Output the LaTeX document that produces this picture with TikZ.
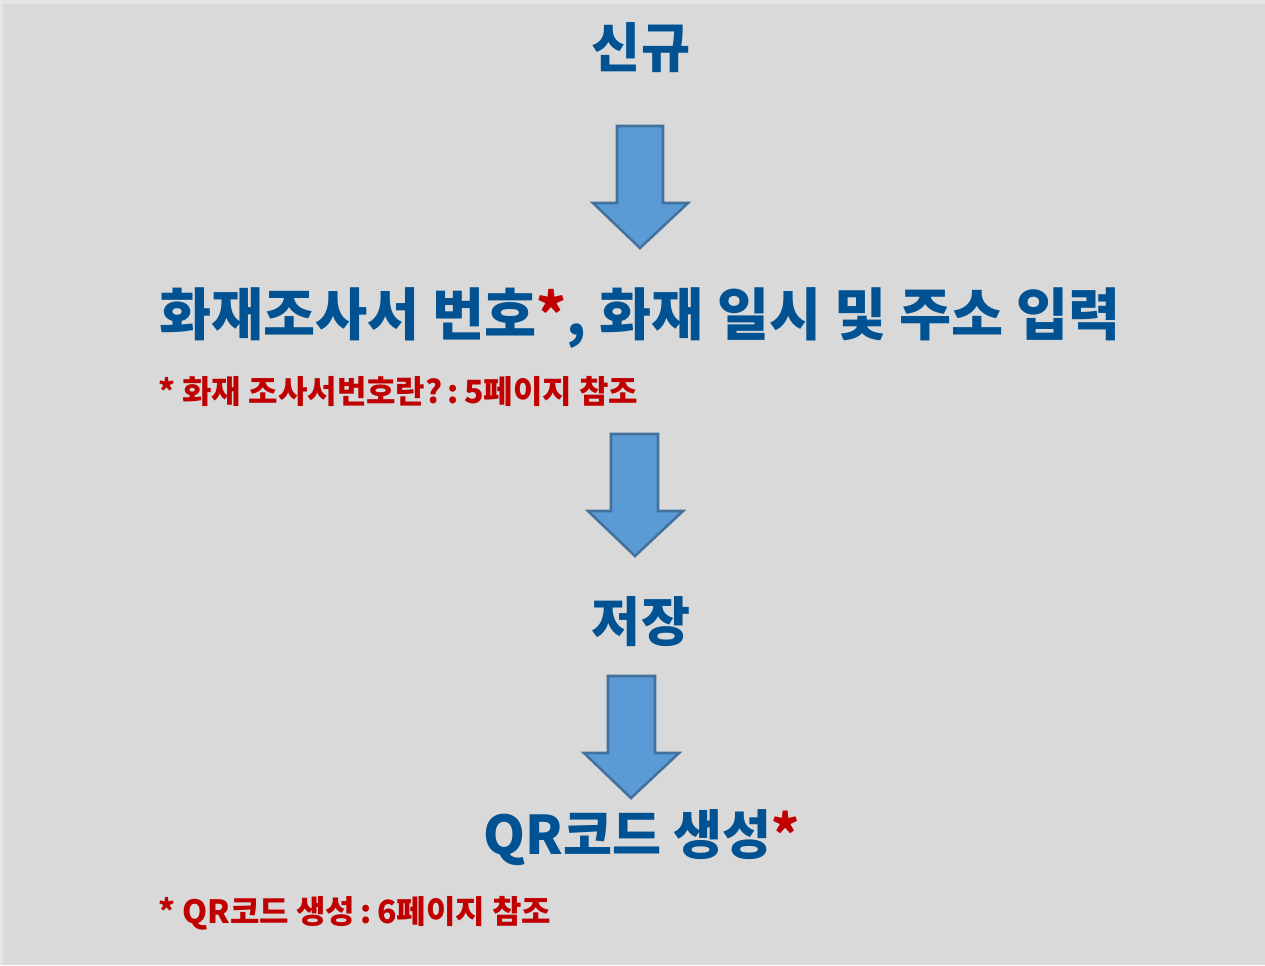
\documentclass[tikz,border=0pt]{standalone}
\usepackage{fontspec}
\setmainfont{Noto Sans CJK KR}
\definecolor{bg}{HTML}{D9D9D9}
\definecolor{bgedge}{HTML}{E6E6E6}
\definecolor{mainblue}{RGB}{0,82,147}
\definecolor{notered}{RGB}{192,0,0}
\definecolor{arrowfill}{HTML}{5B9BD5}
\definecolor{arrowline}{HTML}{41719C}
\tikzset{
  stepbox/.style={text=mainblue, font=\bfseries\fontsize{40}{48}\selectfont, inner sep=0pt},
  widebox/.style={stepbox, font=\bfseries\fontsize{42.5}{50}\selectfont},
  notebox/.style={text=notered, font=\bfseries\fontsize{24}{28}\selectfont, inner sep=0pt, anchor=west},
  blockarrow/.style={fill=arrowfill, draw=arrowline, line width=1.9pt, line join=miter},
}
\begin{document}
\begin{tikzpicture}[x=0.75pt,y=-0.75pt]
\fill[bgedge] (0,0) rectangle (1265,965);
\fill[bg] (3,4) rectangle (1265,965);
\useasboundingbox (0,0) rectangle (1265,965);

\node[stepbox] (n1) at (641,48) {신규};
\node[widebox] (n2) at (640,318) {화재조사서 번호\textcolor{notered}{*}, 화재 일시 및 주소 입력};
\node[notebox] (r1) at (158,392) {* 화재 조사서번호란?\,:\,5페이지 참조};
\node[stepbox] (n3) at (641,622) {저장};
\node[stepbox] (n4) at (642,838) {QR코드 생성\textcolor{notered}{*}};
\node[notebox] (r2) at (158,913) {* QR코드 생성\,:\,6페이지 참조};

% block arrows
\draw[blockarrow] (617,126) -- (663,126) -- (663,203) -- (688,203) -- (640,248) -- (593,203) -- (617,203) -- cycle;
\draw[blockarrow] (611,434) -- (658,434) -- (658,511) -- (683,511) -- (635,556) -- (588,511) -- (611,511) -- cycle;
\draw[blockarrow] (608,676) -- (655,676) -- (655,753) -- (679,753) -- (631,798) -- (584,753) -- (608,753) -- cycle;
\end{tikzpicture}
\end{document}
